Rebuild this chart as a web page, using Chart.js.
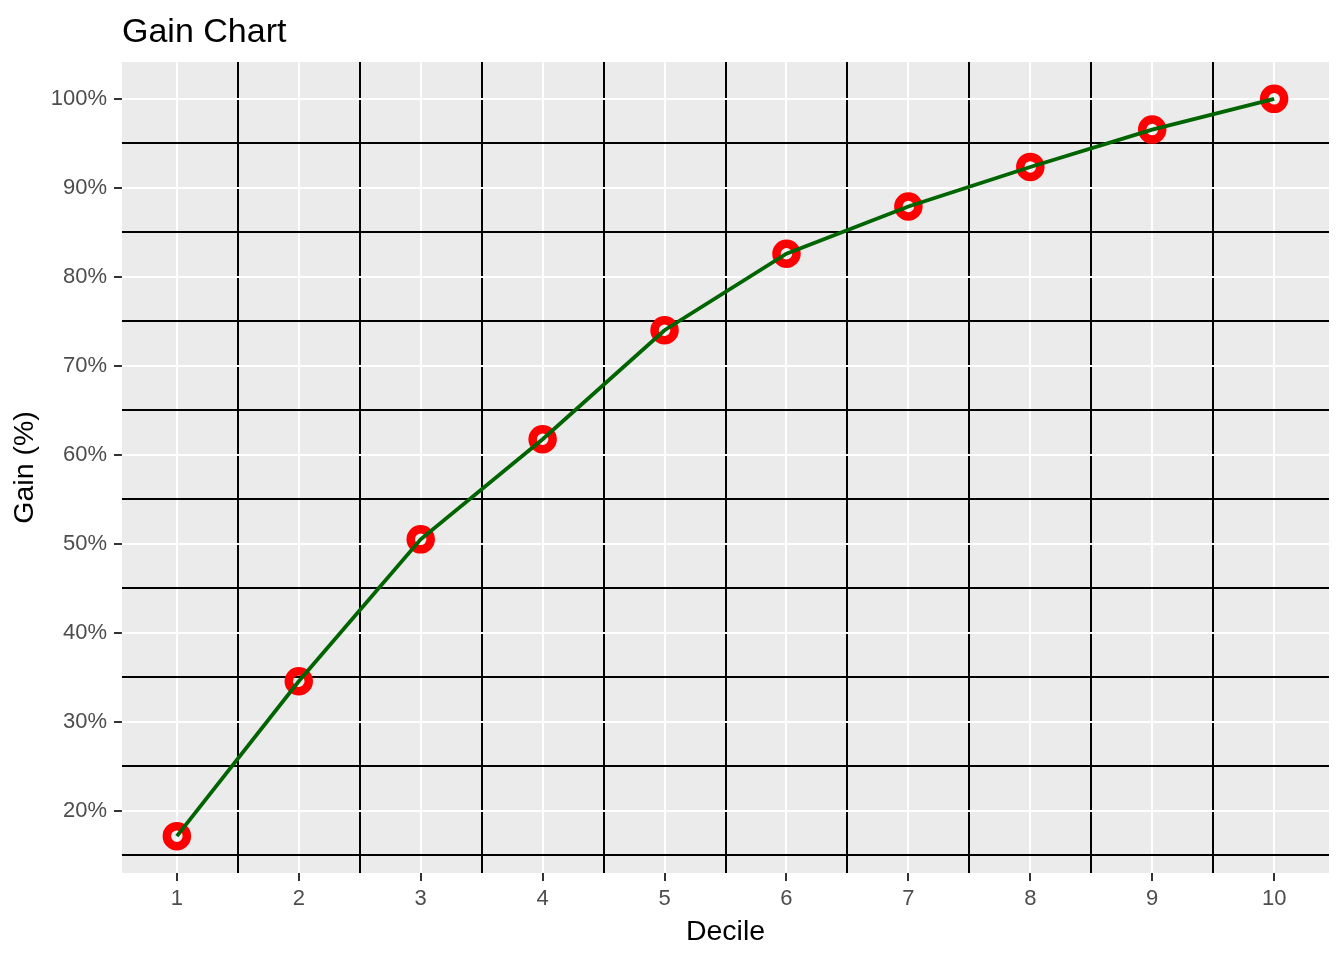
<!DOCTYPE html>
<html>
<head>
  <title>Gain Chart</title>
  <script src="https://cdn.jsdelivr.net/npm/chart.js"></script>
  <style>
    body { margin: 0; background: #ffffff; }
    .wrap { position: relative; width: 1344px; height: 960px; }
    .title { position: absolute; left: 122px; top: 13px; font-family: 'Liberation Sans', Arial, sans-serif;
             font-size: 34px; line-height: 34px; color: #000000; white-space: nowrap; }
    canvas { position: absolute; left: 0; top: 0; }
  </style>
</head>
<body>
  <div class="wrap">
    <canvas id="gainChart" width="1344" height="960"></canvas>
    <div class="title">Gain Chart</div>
  </div>

  <script>
    // Values
    const deciles = [1, 2, 3, 4, 5, 6, 7, 8, 9, 10];
    const gains = [17.15, 34.55, 50.5, 61.75, 74.0, 82.6, 87.9, 92.35, 96.55, 100];
    const xMinorTicks = [1.5, 2.5, 3.5, 4.5, 5.5, 6.5, 7.5, 8.5, 9.5];
    const yMajorTicks = [20, 30, 40, 50, 60, 70, 80, 90, 100];
    const yMinorTicks = [15, 25, 35, 45, 55, 65, 75, 85, 95];

    const points = deciles.map((d, i) => ({ x: d, y: gains[i] }));

    // ggplot-like 5% expansion around the data
    const yLo = Math.min(...gains), yHi = Math.max(...gains);
    const yPad = (yHi - yLo) * 0.05;
    const xPad = (deciles[deciles.length - 1] - deciles[0]) * 0.05;

    const FONT = "'Liberation Sans', Arial, sans-serif";
    const isMajorX = v => deciles.includes(v);
    const isMajorY = v => yMajorTicks.includes(v);

    const panelBg = {
      id: 'panelBg',
      beforeDraw(chart) {
        const { ctx, chartArea: a } = chart;
        ctx.save();
        ctx.fillStyle = '#EBEBEB';
        ctx.fillRect(a.left, a.top, a.right - a.left, a.bottom - a.top);
        ctx.restore();
      }
    };

    new Chart(document.getElementById('gainChart'), {
      type: 'line',
      data: {
        datasets: [
          {
            label: 'Gain line',
            data: points,
            borderColor: '#006400',
            borderWidth: 3.8,
            pointRadius: 0,
            fill: false,
            tension: 0,
            order: 0
          },
          {
            label: 'Gain points',
            data: points,
            showLine: false,
            pointRadius: 10,
            pointBorderWidth: 8.5,
            pointBorderColor: '#FF0000',
            pointBackgroundColor: 'rgba(0,0,0,0)',
            order: 1
          }
        ]
      },
      options: {
        responsive: false,
        animation: false,
        layout: { autoPadding: false, padding: { top: 62, right: 15, left: 0, bottom: 0 } },
        plugins: {
          legend: { display: false },
          tooltip: { enabled: false }
        },
        scales: {
          x: {
            type: 'linear',
            min: deciles[0] - xPad,
            max: deciles[deciles.length - 1] + xPad,
            afterBuildTicks: s => {
              s.ticks = [...deciles, ...xMinorTicks].sort((a, b) => a - b).map(v => ({ value: v }));
            },
            afterFit: s => {
              s.height = 87;
              s.paddingLeft = 0;
              s.paddingRight = 0;
            },
            border: { display: false },
            grid: {
              color: c => isMajorX(c.tick.value) ? '#FFFFFF' : '#000000',
              lineWidth: 2,
              drawTicks: true,
              tickLength: 8,
              tickWidth: 2,
              tickColor: c => isMajorX(c.tick.value) ? '#333333' : 'rgba(0,0,0,0)'
            },
            ticks: {
              autoSkip: false,
              maxRotation: 0,
              padding: 7,
              color: '#4D4D4D',
              font: { family: FONT, size: 22, lineHeight: 1 },
              callback: v => isMajorX(v) ? String(v) : ''
            },
            title: {
              display: true,
              text: 'Decile',
              color: '#000000',
              font: { family: FONT, size: 28.5, lineHeight: 1 },
              padding: { top: 0, bottom: 14 }
            }
          },
          y: {
            type: 'linear',
            min: yLo - yPad,
            max: yHi + yPad,
            afterBuildTicks: s => {
              s.ticks = [...yMajorTicks, ...yMinorTicks].sort((a, b) => a - b).map(v => ({ value: v }));
            },
            afterFit: s => { s.width = 122; },
            border: { display: false },
            grid: {
              color: c => isMajorY(c.tick.value) ? '#FFFFFF' : '#000000',
              lineWidth: 2,
              drawTicks: true,
              tickLength: 8,
              tickWidth: 2,
              tickColor: c => isMajorY(c.tick.value) ? '#333333' : 'rgba(0,0,0,0)'
            },
            ticks: {
              autoSkip: false,
              padding: 7,
              color: '#4D4D4D',
              font: { family: FONT, size: 22, lineHeight: 1 },
              callback: v => isMajorY(v) ? v + '%' : ''
            },
            title: {
              display: true,
              text: 'Gain (%)',
              color: '#000000',
              font: { family: FONT, size: 28.5, lineHeight: 1 },
              padding: { top: 11, bottom: 0 }
            }
          }
        }
      },
      plugins: [panelBg]
    });
  </script>
</body>
</html>
